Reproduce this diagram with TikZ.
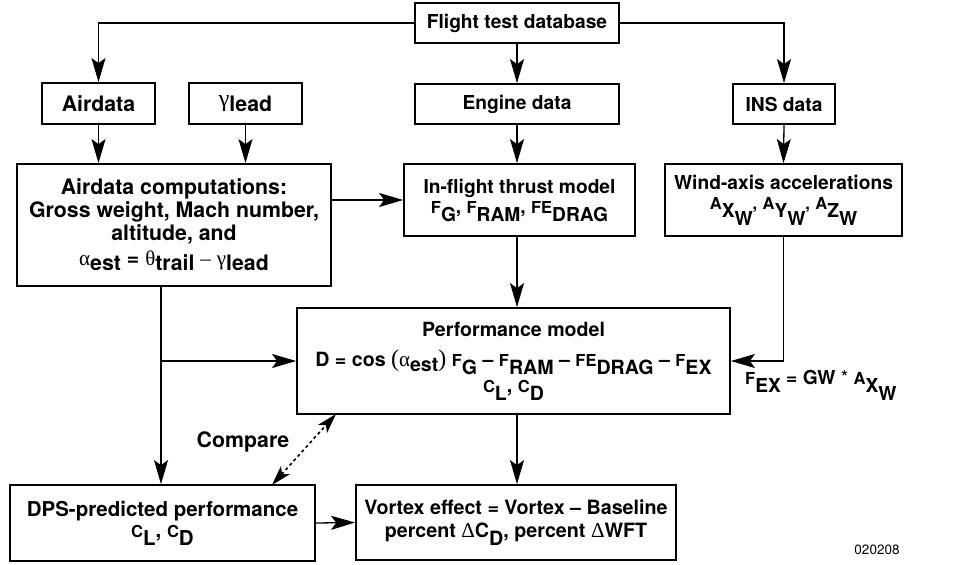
\documentclass[tikz,border=0pt]{standalone}
\usepackage{fontspec}
\setmainfont{TeX Gyre Heros}
\newfontfamily\gkfont{Liberation Serif}
\usetikzlibrary{arrows.meta,calc}
\newcommand{\gr}[1]{{\gkfont\mdseries\fontsize{21}{21}\selectfont #1}}
\newcommand{\grb}[1]{{\gkfont\mdseries\fontsize{24}{24}\selectfont #1}}
\newcommand{\bsm}[1]{{\fontsize{16.5}{16.5}\selectfont #1}}
\newcommand{\dn}[1]{\raisebox{-8pt}{#1}}
\newcommand{\gdn}[1]{\raisebox{-5pt}{#1}}
\newcommand{\bpar}[1]{{\gkfont\mdseries\fontsize{24}{24}\selectfont #1}}
\tikzset{
  box/.style={draw, line width=1.8pt, align=center, inner sep=0pt,
    font=\bfseries\fontsize{19.2}{23}\selectfont},
  bigbox/.style={box, font=\bfseries\fontsize{21.3}{23}\selectfont},
  conn/.style={line width=1.3pt, -{Stealth[length=24pt,width=14pt,inset=5pt]}},
  cmpconn/.style={line width=1.6pt, dash pattern=on 3pt off 3pt,
    {Stealth[length=20pt,width=12pt,inset=5pt]}-{Stealth[length=20pt,width=12pt,inset=5pt]}},
  lbl/.style={font=\bfseries\fontsize{19.2}{23}\selectfont, inner sep=0pt}
}
\begin{document}
\begin{tikzpicture}[x=1pt,y=-1pt]
\useasboundingbox (0,0) rectangle (956,565);
\node[box, minimum width=204pt, minimum height=40pt] (db) at (517,23) {Flight test database};
\node[bigbox, minimum width=113pt, minimum height=41pt] (air) at (98.5,103.5) {Airdata};
\node[bigbox, minimum width=113pt, minimum height=41pt] (gam) at (245.5,103.5) {\grb{γ}\gdn{lead}};
\node[box, minimum width=204pt, minimum height=40pt] (eng) at (517,104) {Engine data};
\node[box, minimum width=102pt, minimum height=40pt] (ins) at (784,104) {INS data};
\node[bigbox, minimum width=314pt, minimum height=122pt] (comp) at (174,225)
  {Airdata computations:\\Gross weight, Mach number,\\altitude, and\\[2pt]
   \gr{α}\gdn{est} = \gr{θ}\gdn{trail} \gr{–} \gr{γ}\gdn{lead}};
\node[box, minimum width=231pt, minimum height=72pt] (thr) at (519.5,200)
  {In-flight thrust model\\[-3pt]
   \bsm{F}\dn{G}, \bsm{F}\dn{RAM}, \bsm{FE}\dn{DRAG}};
\node[box, minimum width=237pt, minimum height=72pt] (wind) at (783.5,200)
  {Wind-axis accelerations\\[-3pt]
   \bsm{A}\dn{X\dn{W}}\bsm{,} \bsm{A}\dn{Y\dn{W}}\bsm{,} \bsm{A}\dn{Z\dn{W}}};
\node[box, font=\bfseries\fontsize{19.6}{23}\selectfont, minimum width=433pt, minimum height=106pt] (perf) at (513.5,361)
  {Performance model\\[7pt]
   D = cos \bpar{(}\gr{α}\gdn{est}\bpar{)} \bsm{F}\dn{G} – \bsm{F}\dn{RAM} – \bsm{FE}\dn{DRAG} – \bsm{F}\dn{EX}\\[3pt]
   \bsm{C}\dn{L}, \bsm{C}\dn{D}};
\node[box, font=\bfseries\fontsize{20.5}{23}\selectfont, minimum width=305pt, minimum height=76pt] (dps) at (162.5,523)
  {DPS-predicted performance\\[-2pt]\bsm{C}\dn{L}, \bsm{C}\dn{D}};
\node[box, font=\bfseries\fontsize{19.7}{23}\selectfont, minimum width=320pt, minimum height=75pt] (vor) at (516,522.5)
  {Vortex effect = Vortex – Baseline\\[0pt]percent \gr{Δ}C\dn{D}, percent \gr{Δ}WFT};
\node[lbl, anchor=west] (fex) at (745,385) {\bsm{F}\dn{EX} = GW {\mdseries *} \bsm{A}\dn{X\dn{W}}};
\node[lbl, font=\bfseries\fontsize{21.3}{23}\selectfont] (cmp) at (243,442) {Compare};
\node[font=\fontsize{13.5}{14}\selectfont, inner sep=0pt] (num) at (877,550) {020208};
% connectors
\draw[conn] (db.west) -| (air.north);
\draw[conn] (db.south) -- (eng.north);
\draw[conn] (db.east) -| (ins.north);
\draw[conn] (air.south) -- (air.south |- comp.north);
\draw[conn] (gam.south) -- (gam.south |- comp.north);
\draw[conn] (eng.south) -- (eng.south |- thr.north);
\draw[conn] (ins.south) -- (wind.north);
\draw[conn] (comp.east |- thr.west) -- (thr.west);
\coordinate (c1) at (161,286);
\coordinate (j) at (161,361);
\draw[conn] (c1) -- (c1 |- dps.north);
\draw[conn] (j) -- (perf.west);
\draw[conn] (eng.south |- thr.south) -- (eng.south |- perf.north);
\draw[conn] (wind.south) |- (perf.east);
\draw[conn] (eng.south |- perf.south) -- (eng.south |- vor.north);
\draw[conn] (dps.east) -- (vor.west);
\coordinate (pa) at (336,414);
\coordinate (pb) at (272,485);
\draw[cmpconn] (pb) -- (pa);
\end{tikzpicture}
\end{document}
